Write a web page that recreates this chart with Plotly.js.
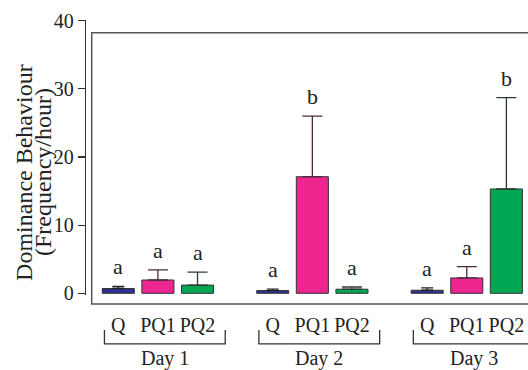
<!DOCTYPE html>
<html>
<head>
<meta charset="utf-8">
<script src="https://cdn.plot.ly/plotly-3.0.1.min.js"></script>
<style>html,body{margin:0;padding:0;background:#fff;}#chart{width:528px;height:370px;}</style>
</head>
<body>
<div id="chart"></div>
<script>
// ---- data ----
const days = ['Day 1', 'Day 2', 'Day 3'];
const treatments = ['Q', 'PQ1', 'PQ2'];
const meanQ   = [0.7, 0.4, 0.45];
const meanPQ1 = [1.95, 17.1, 2.25];
const meanPQ2 = [1.2, 0.6, 15.3];
const errQ    = [0.3, 0.2, 0.35];
const errPQ1  = [1.5, 8.9, 1.65];
const errPQ2  = [1.9, 0.32, 13.4];
const lettersQ   = ['a', 'a', 'a'];
const lettersPQ1 = ['a', 'b', 'a'];
const lettersPQ2 = ['a', 'a', 'b'];
const yTicks = [0, 10, 20, 30, 40];

// ---- layout helpers ----
const GROUP_STEP = 3.9;
const FONT = "'Liberation Serif', 'Times New Roman', Times, serif";
const series = [
  {name: treatments[0], mean: meanQ,   err: errQ,   letters: lettersQ,   color: '#2E3192', ecolor: '#222222', cap: 6},
  {name: treatments[1], mean: meanPQ1, err: errPQ1, letters: lettersPQ1, color: '#EC258F', ecolor: '#4a2a3a', cap: 10},
  {name: treatments[2], mean: meanPQ2, err: errPQ2, letters: lettersPQ2, color: '#00A651', ecolor: '#2a3a30', cap: 10}
];
const pos = (g, i) => g * GROUP_STEP + i;

const traces = series.map((s, i) => ({
  type: 'bar',
  name: s.name,
  x: days.map((d, g) => pos(g, i)),
  y: s.mean,
  width: 0.81,
  marker: {color: s.color, line: {color: '#333', width: 1}},
  error_y: {type: 'data', symmetric: false, array: s.err, arrayminus: s.err.map(() => 0),
            color: s.ecolor, thickness: 1.3, width: s.cap},
  hoverinfo: 'none'
}));

const tickvals = [], ticktext = [];
days.forEach((d, g) => treatments.forEach((t, i) => { tickvals.push(pos(g, i)); ticktext.push(t); }));

const annotations = [];
series.forEach((s, i) => {
  days.forEach((d, g) => {
    annotations.push({x: pos(g, i), y: s.mean[g] + s.err[g], xref: 'x', yref: 'y',
      text: s.letters[g], showarrow: false, yanchor: 'bottom', yshift: 5,
      font: {family: FONT, size: 22, color: '#222'}});
  });
});
const shapes = [];
days.forEach((d, g) => {
  const x0 = pos(g, 0) - 0.35, x1 = pos(g, 2) + 0.7;
  shapes.push({type: 'path', xref: 'x', yref: 'paper',
    path: `M ${x0} -0.127 L ${x0} -0.178 L ${x1} -0.178 L ${x1} -0.127`,
    line: {color: '#333', width: 1.3}});
  annotations.push({x: (x0 + x1) / 2, y: -0.232, xref: 'x', yref: 'paper', text: d,
    showarrow: false, yanchor: 'middle', font: {family: FONT, size: 20, color: '#222'}});
});
// frame box
shapes.push({type: 'rect', xref: 'paper', yref: 'paper', x0: 0.0129, x1: 1.02, y0: -0.0327, y1: 0.9538,
  line: {color: '#555', width: 1.5}, fillcolor: 'rgba(0,0,0,0)', layer: 'below'});
// y title (two lines)
annotations.push({x: -0.1406, y: 0.447, xref: 'paper', yref: 'paper', text: 'Dominance Behaviour',
  textangle: -90, showarrow: false, xanchor: 'center', yanchor: 'middle',
  font: {family: FONT, size: 24, color: '#222'}});
annotations.push({x: -0.0975, y: 0.447, xref: 'paper', yref: 'paper', text: '(Frequency/hour)',
  textangle: -90, showarrow: false, xanchor: 'center', yanchor: 'middle',
  font: {family: FONT, size: 24, color: '#222'}});

const layout = {
  width: 528, height: 370,
  margin: {l: 86, r: 0, t: 20, b: 75, pad: 0},
  paper_bgcolor: '#fff', plot_bgcolor: '#fff',
  showlegend: false, barmode: 'overlay',
  font: {family: FONT, size: 20, color: '#222'},
  xaxis: {range: [-0.816, 10.346], tickmode: 'array', tickvals: tickvals, ticktext: ticktext,
          showline: false, showgrid: false, zeroline: false, ticks: 'outside', ticklen: 12,
          tickcolor: 'rgba(0,0,0,0)', tickfont: {family: FONT, size: 20, color: '#222'}},
  yaxis: {range: [-0.25, 40.09], tickmode: 'array', tickvals: yTicks, showline: true,
          linecolor: '#333', linewidth: 1.2, ticks: 'outside', ticklen: 7, tickcolor: '#333',
          tickwidth: 1.2, showgrid: false, zeroline: false,
          tickfont: {family: FONT, size: 20, color: '#222'}},
  shapes: shapes,
  annotations: annotations
};
Plotly.newPlot('chart', traces, layout, {staticPlot: true, displayModeBar: false});
</script>
</body>
</html>
